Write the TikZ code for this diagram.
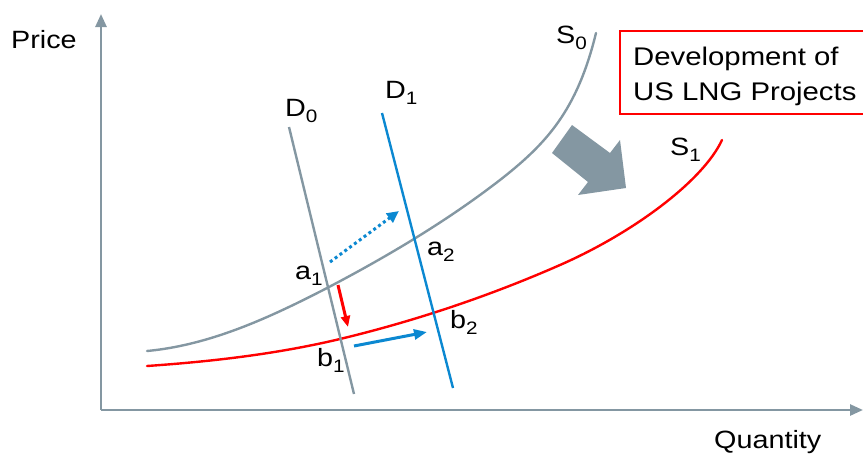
\documentclass[tikz,border=0pt]{standalone}
\usepackage{fontspec}
\setmainfont[FakeStretch=1.15]{Liberation Sans}
\usetikzlibrary{arrows.meta}
\definecolor{greyblue}{HTML}{8497A2}
\definecolor{lineblue}{HTML}{0B88D1}
\definecolor{linered}{HTML}{FF0000}
\newcommand\mysub[1]{\raisebox{-6pt}{\fontsize{18}{18}\selectfont #1}}
\tikzset{
  lab/.style={anchor=base west, inner sep=0pt, font=\fontsize{25}{29}\selectfont},
  axis/.style={draw=greyblue, line width=2.6pt, -{Triangle[length=13pt,width=11pt]}},
  curve/.style={line width=2.4pt, line cap=round},
}
\begin{document}
\begin{tikzpicture}[x=1pt,y=-1pt]
\useasboundingbox (0,0) rectangle (863,453);
% axes
\coordinate (O) at (101,410);
\coordinate (ytop) at (101,14);
\coordinate (xend) at (863,410);
\draw[axis] (O) -- (ytop);
\draw[axis] (O) -- (xend);
\node[lab] (price) at (11,48) {Price};
\node[lab] (qty) at (714,448) {Quantity};
% supply curves
\draw[curve, greyblue] (147,351) .. controls (211,345) and (271,317) .. (329,287)
  .. controls (388,256) and (447,221) .. (500,180)
  .. controls (546,144) and (577,111) .. (596,33);
\draw[curve, linered] (147,366) .. controls (212,361.5) and (277,354) .. (340,339)
  .. controls (415,321) and (489.5,296) .. (560,265)
  .. controls (633,233) and (703,181) .. (722,140);
% demand lines
\coordinate (d0a) at (289,127);
\coordinate (d0b) at (354,394);
\coordinate (d1a) at (382,113);
\coordinate (d1b) at (453,388);
\draw[curve, greyblue, line cap=butt] (d0a) -- (d0b);
\draw[curve, lineblue, line cap=butt] (d1a) -- (d1b);
% labels
\node[lab] (s0) at (556,43) {S\mysub{0}};
\node[lab] (s1) at (670,155) {S\mysub{1}};
\node[lab] (dd0) at (285,116) {D\mysub{0}};
\node[lab] (dd1) at (385,98) {D\mysub{1}};
\node[lab] (a1) at (295,279) {a\mysub{1}};
\node[lab] (a2) at (427,255) {a\mysub{2}};
\node[lab] (b1) at (317,366) {b\mysub{1}};
\node[lab] (b2) at (450,328) {b\mysub{2}};
% small arrows
\coordinate (dotA) at (330,262);
\coordinate (dotB) at (399,211);
\coordinate (redA) at (338,285);
\coordinate (redB) at (348,327);
\coordinate (bluA) at (354,346);
\coordinate (bluB) at (427,332);
\draw[lineblue, line width=3pt, dash pattern=on 3pt off 3pt, -{Triangle[length=12pt,width=11pt]}] (dotA) -- (dotB);
\draw[linered, line width=3pt, -{Triangle[length=11pt,width=9pt]}] (redA) -- (redB);
\draw[lineblue, line width=3pt, -{Triangle[length=13pt,width=10pt]}] (bluA) -- (bluB);
% big shift arrow
\fill[greyblue] (572,125) -- (610,153) -- (620,140) -- (626,188) -- (578,195) -- (588,182) -- (552,153) -- cycle;
% box
\node[draw=linered, line width=1.6pt, anchor=north west, minimum width=260pt, minimum height=83pt, inner sep=0pt] (box) at (619,30) {};
\node[lab, font=\fontsize{25.5}{30}\selectfont] (bt1) at (633,65) {Development of};
\node[lab, font=\fontsize{25.5}{30}\selectfont] (bt2) at (633,100) {US LNG Projects};
\end{tikzpicture}
\end{document}
